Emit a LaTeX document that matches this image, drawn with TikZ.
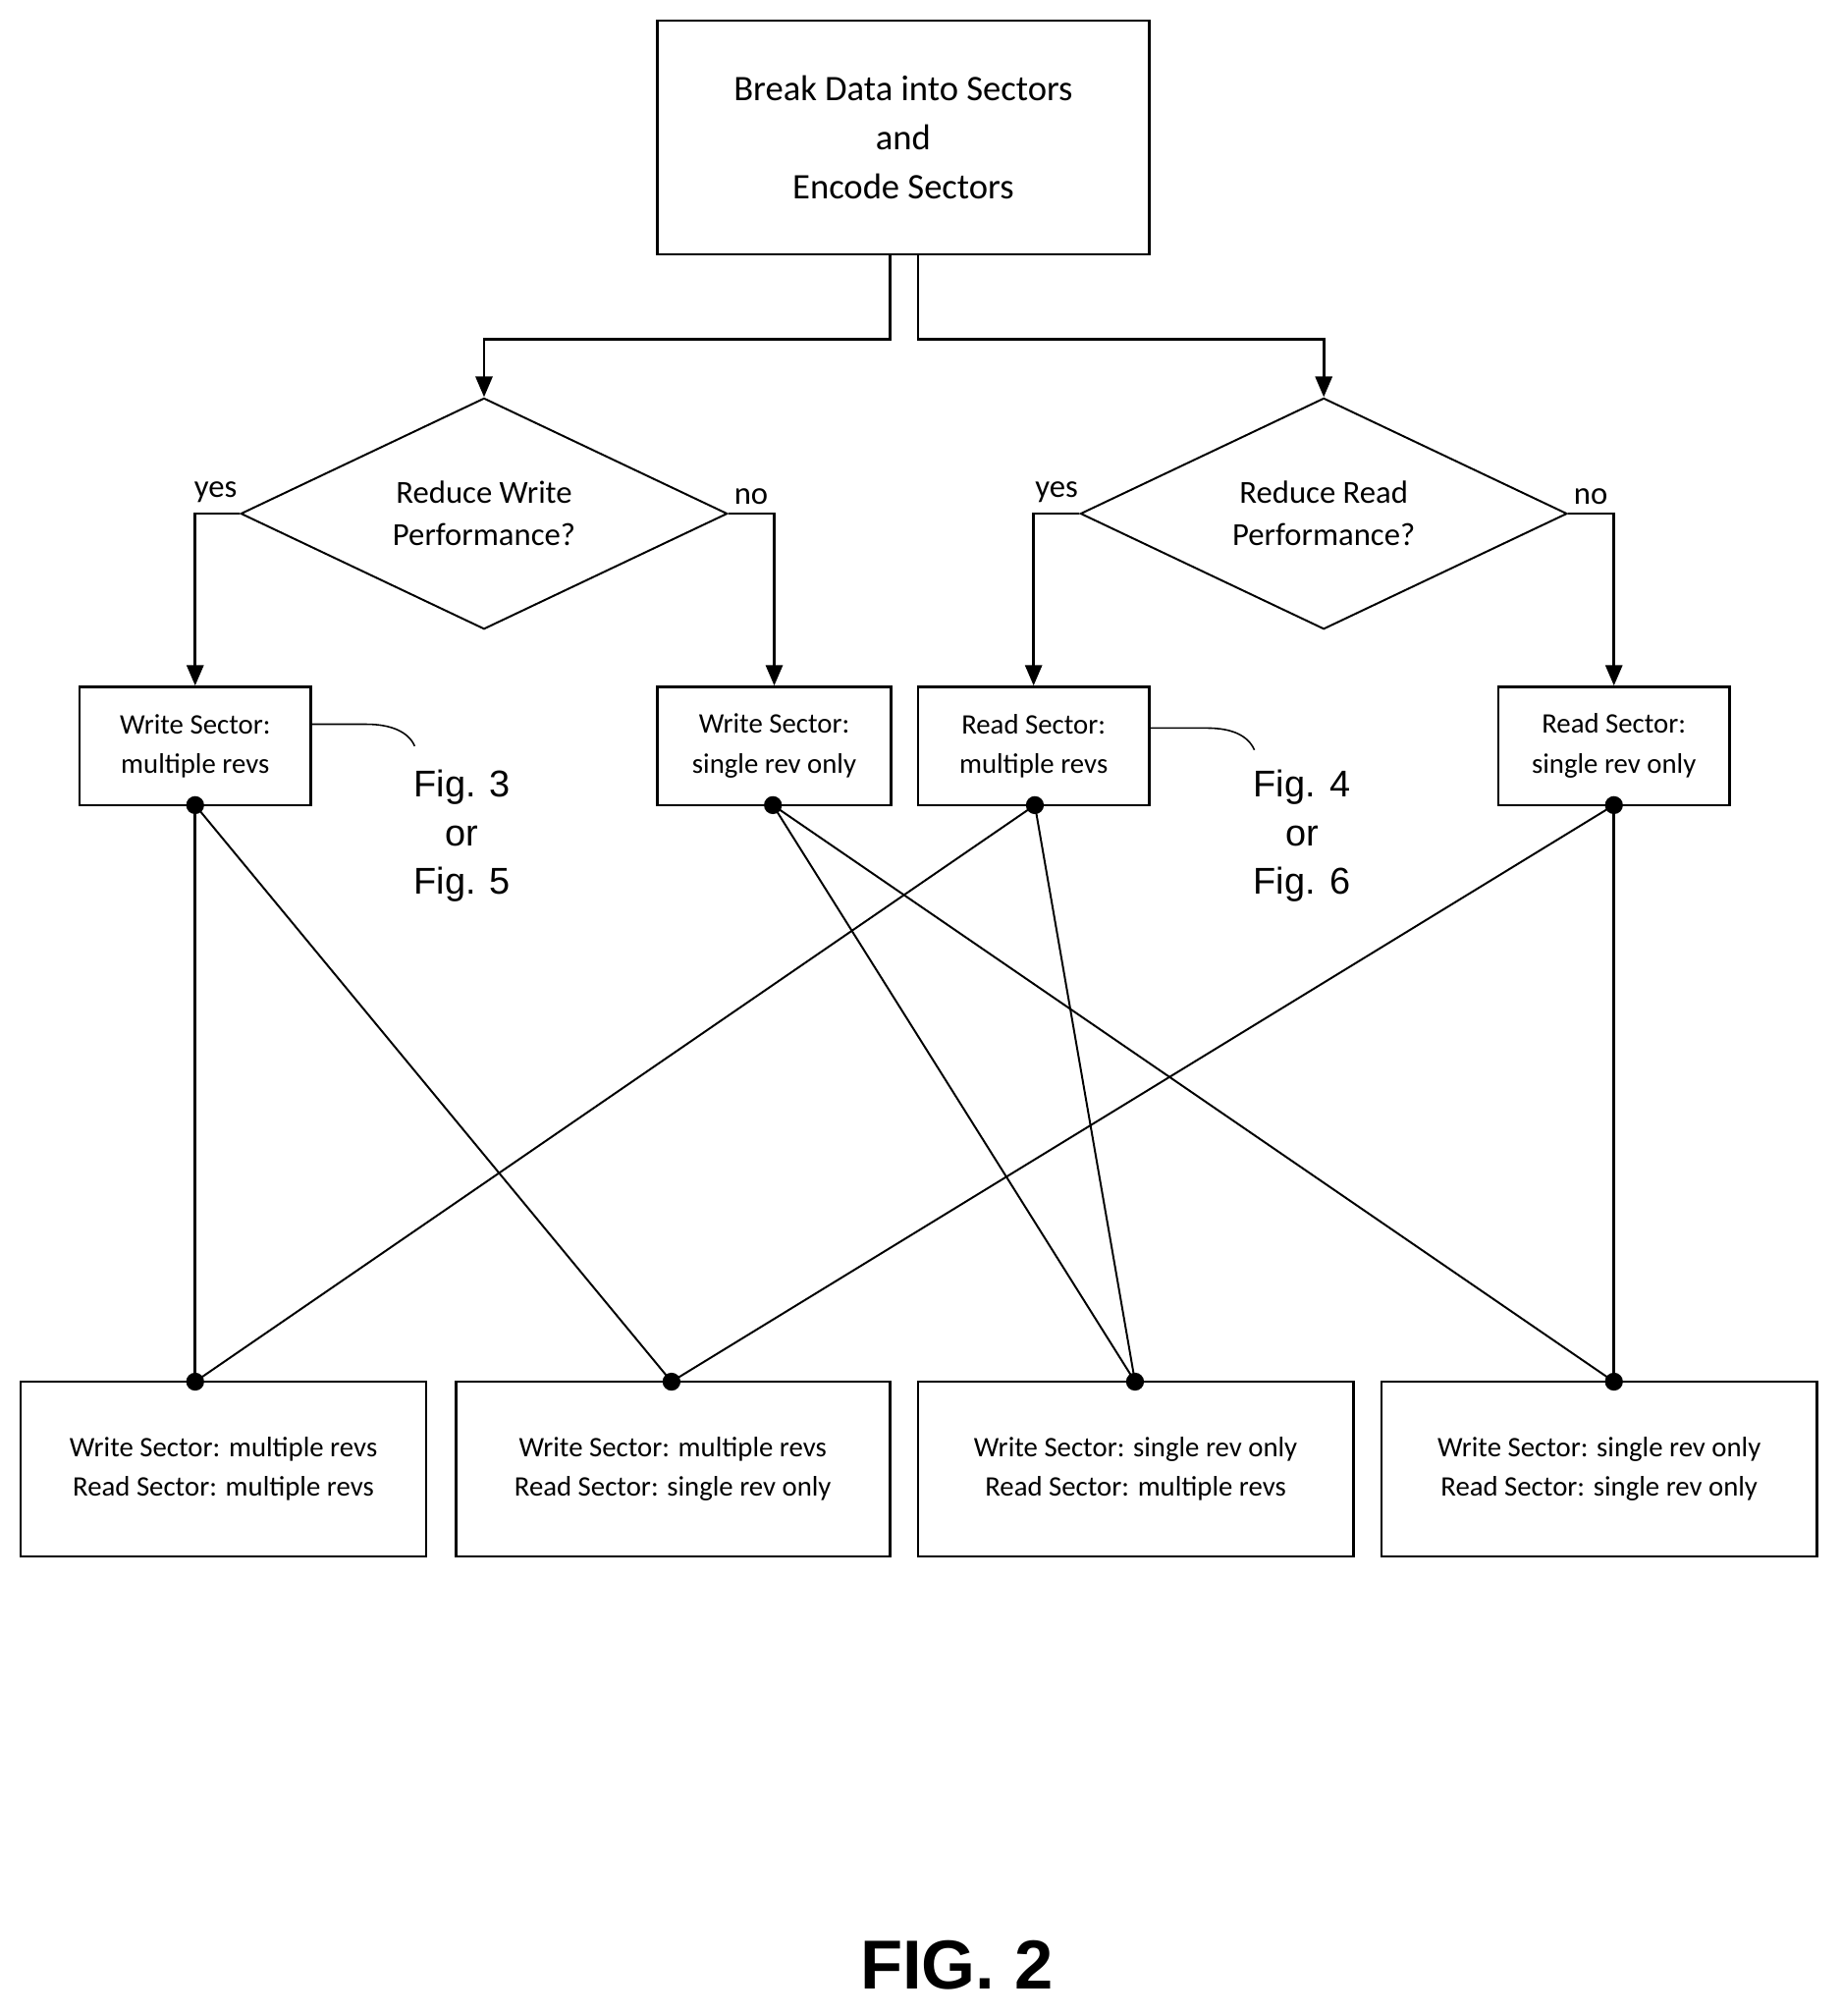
\documentclass[tikz,border=0pt]{standalone}
\usepackage{fontspec}
\setmainfont{Carlito}
\newfontfamily\arialf{Liberation Sans}
\usetikzlibrary{shapes.geometric,arrows.meta}
\begin{document}
\begin{tikzpicture}[x=1pt,y=-1pt,
  box/.style={draw,line width=2pt,inner sep=0pt,align=center},
  dia/.style={draw,line width=1.5pt,diamond,inner sep=0pt,minimum width=379pt,minimum height=180pt,aspect=2.1,align=center,font=\fontsize{25}{33}\selectfont},
  arr/.style={line width=2.2pt,-{Triangle[length=16pt,width=13pt]}},
  thin/.style={line width=1.5pt},
  dot/.style={circle,fill,inner sep=0pt,minimum size=14pt},
  lab/.style={font=\fontsize{25}{30}\selectfont},
  fig/.style={font=\arialf\fontsize{29}{38}\selectfont,align=center}]
\useasboundingbox (0,0) rectangle (1434,1570);
\node[box,minimum width=383pt,minimum height=182pt,font=\fontsize{28}{38}\selectfont] (top) at (703.5,107) {Break Data into Sectors\\and\\Encode Sectors};
\node[dia] (d1) at (377,400) {Reduce Write\\Performance?};
\node[dia] (d2) at (1031,400) {Reduce Read\\Performance?};
\tikzset{sb/.style={box,minimum width=180pt,minimum height=92pt,font=\fontsize{22}{31}\selectfont}}
\node[sb] (w1) at (152,581) {Write Sector:\\multiple revs};
\node[sb,minimum width=182pt] (w2) at (603,581) {Write Sector:\\single rev only};
\node[sb] (r1) at (805,581) {Read Sector:\\multiple revs};
\node[sb] (r2) at (1257,581) {Read Sector:\\single rev only};
\tikzset{bb/.style={box,minimum height=136pt,font=\fontsize{22}{31}\selectfont}}
\node[bb,minimum width=316pt] (b1) at (174,1144) {Write Sector: multiple revs\\Read Sector: multiple revs};
\node[bb,minimum width=338pt] (b2) at (524,1144) {Write Sector: multiple revs\\Read Sector: single rev only};
\node[bb,minimum width=339pt] (b3) at (884.5,1144) {Write Sector: single rev only\\Read Sector: multiple revs};
\node[bb,minimum width=339pt] (b4) at (1245.5,1144) {Write Sector: single rev only\\Read Sector: single rev only};
% top arrows
\draw[arr] (693,198) |- (377,264) -- (d1.north);
\draw[arr] (715,198) |- (1031,264) -- (d2.north);
\draw[arr] (d1.west) -| (w1.north);
\draw[arr] (d1.east) -| (w2.north);
\draw[arr] (d2.west) -| (r1.north);
\draw[arr] (d2.east) -| (r2.north);
\node[lab] (y1) at (168,383) {yes};
\node[lab] (n1) at (585,387) {no};
\node[lab] (y2) at (823,383) {yes};
\node[lab] (n2) at (1239,387) {no};
% callouts
\coordinate (c1) at (323,581);
\coordinate (c2) at (977,584);
\draw[line width=1.2pt] (w1.east |- 0,564) -- (285,564) .. controls (305,564) and (318,570) .. (c1);
\draw[line width=1.2pt] (r1.east |- 0,567) -- (940,567) .. controls (960,567) and (972,573) .. (c2);
\node[fig] (f1) at (360,651) {Fig. 3\\or\\Fig. 5};
\node[fig] (f2) at (1014,651) {Fig. 4\\or\\Fig. 6};
% dots
\node[dot] (pw1) at (152,627) {};
\node[dot] (pw2) at (602,627) {};
\node[dot] (pr1) at (806,627) {};
\node[dot] (pr2) at (1257,627) {};
\node[dot] (q1) at (152,1076) {};
\node[dot] (q2) at (523,1076) {};
\node[dot] (q3) at (884,1076) {};
\node[dot] (q4) at (1257,1076) {};
\draw[line width=2pt] (pw1.center) -- (q1.center);
\draw[line width=2pt] (pr2.center) -- (q4.center);
\draw[thin] (pw1.center) -- (q2.center);
\draw[thin] (pw2.center) -- (q3.center);
\draw[thin] (pw2.center) -- (q4.center);
\draw[thin] (pr1.center) -- (q1.center);
\draw[thin] (pr1.center) -- (q3.center);
\draw[thin] (pr2.center) -- (q2.center);
\node[font=\arialf\bfseries\fontsize{54}{60}\selectfont] (title) at (745,1530) {FIG. 2};
\end{tikzpicture}
\end{document}
